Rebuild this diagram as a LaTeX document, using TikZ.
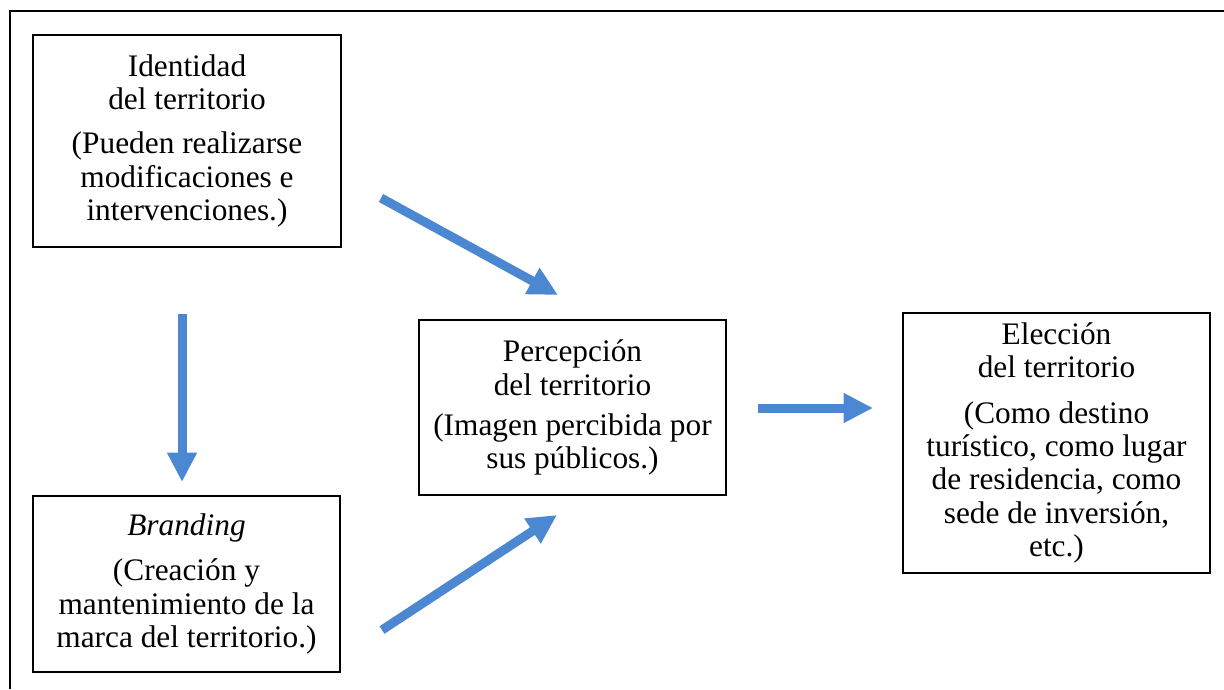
\documentclass[tikz,border=0pt]{standalone}
\usepackage{fontspec}
\setmainfont{Liberation Serif}
\usetikzlibrary{arrows.meta}
\definecolor{arrowblue}{RGB}{76,135,210}
\tikzset{
  box/.style={draw=black, line width=1.5pt, inner sep=0pt, align=center,
    font=\fontsize{23.5}{25}\selectfont},
  flow/.style={draw=arrowblue, line width=6.75pt,
    -{Triangle[width=21pt,length=22pt]}, arrowblue},
  frame/.style={draw=black, line width=1.3pt}
}
\begin{document}
\begin{tikzpicture}[x=0.75pt,y=-0.75pt]
\useasboundingbox (0,0) rectangle (1224,689);
\draw[frame] (1224,11) -- (10,11) -- (10,689);

\node[box, minimum width=231pt, minimum height=159pt] (ident) at (187,141)
  {Identidad\\del territorio\\[8pt](Pueden realizarse\\modificaciones e\\intervenciones.)};
\node[box, minimum width=230.25pt, minimum height=132pt] (brand) at (186.5,584)
  {\textit{Branding}\\[9pt](Creación y\\mantenimiento de la\\marca del territorio.)};
\node[box, minimum width=230.25pt, minimum height=131.25pt] (perc) at (572.5,407.5)
  {Percepción\\del territorio\\[5pt](Imagen percibida por\\sus públicos.)};
\node[box, minimum width=230.25pt, minimum height=195pt] (elec) at (1056.5,443)
  {Elección\\del territorio\\[9pt](Como destino\\turístico, como lugar\\de residencia, como\\sede de inversión,\\etc.)};

\coordinate (d1s) at (182,314);
\coordinate (d1e) at (182,482);
\coordinate (a1s) at (381,198);
\coordinate (a1e) at (558,295);
\coordinate (a2s) at (382,630);
\coordinate (a2e) at (557,515);
\coordinate (r1s) at (758,408);
\coordinate (r1e) at (873,408);

\draw[flow] (d1s) -- (d1e);
\draw[flow] (a1s) -- (a1e);
\draw[flow] (a2s) -- (a2e);
\draw[flow] (r1s) -- (r1e);
\end{tikzpicture}
\end{document}
